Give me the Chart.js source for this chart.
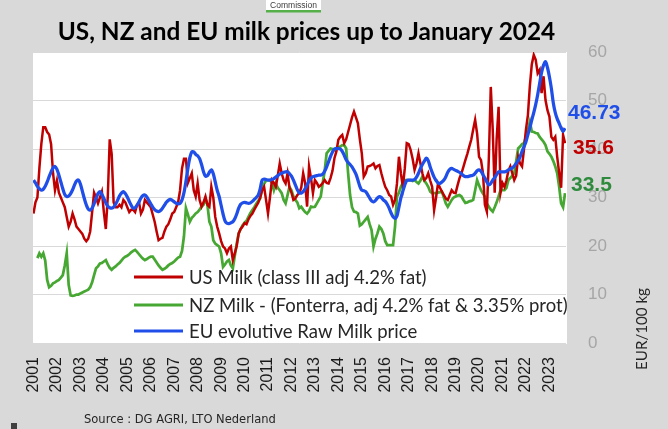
<!DOCTYPE html>
<html><head><meta charset="utf-8">
<script src="https://cdn.jsdelivr.net/npm/chart.js@4.4.0/dist/chart.umd.min.js"></script>
<style>html,body{margin:0;padding:0;background:#d9d9d9;}canvas{display:block}</style>
</head><body>
<canvas id="c" width="668" height="429"></canvas>
<script>
const titleText = 'US, NZ and EU milk prices up to January 2024';
const startYear = 2001;
const yearLabels = ['2001','2002','2003','2004','2005','2006','2007','2008','2009','2010','2011','2012','2013','2014','2015','2016','2017','2018','2019','2020','2021','2022','2023'];
const yTicks = [0,10,20,30,40,50,60];
const seriesNames = ['US Milk (class III adj 4.2% fat)','NZ Milk - (Fonterra, adj 4.2% fat & 3.35% prot)','EU evolutive Raw Milk price'];
const lastValueLabels = ['35.6','33.5','46.73'];

// monthly values, Jan 2001 onwards (EUR/100 kg)
const usMilk = [
26.7,29,30,36,41,44.5,44.5,43.5,43,41,35,31.5,
33.5,31,30,29,28,26,24,25,26.7,25.5,24,23.5,
23,22.5,21.5,21,21.5,23,27,31,30,28.8,30,31.2,
27,23.5,30,42,39,29,28,28,28.5,28,29.5,29,
28,27,27.5,27.5,27,28.5,29,26.7,27.5,29.5,29,28.5,
28,26.5,25,23,21.2,21.5,21.7,23,24,24.5,25.5,26.7,
27,28,29,31.5,36,38,38,33,34,35,31.5,30.2,
32.9,29.5,28.1,29,30.2,28.5,28.1,32.2,30,26,24,22.6,
21,19.9,19.5,18.5,19.5,19.9,17.1,18.5,20,22.6,23.5,24,
24.7,24.5,25.5,26.2,26.7,27.5,28.2,28.9,30,31.5,32.2,29.5,
26.7,30,33.6,33,32.2,34.5,37,35,33.6,32.9,35,32,
31,29.5,29.8,30.5,30.9,32,35,33,28.1,36.4,34,30.9,
33.6,33,32.2,32.5,33,33.6,33,32.9,34,35.5,38.1,39.5,
41.9,42.5,42.9,41.2,42,43.5,45,46.5,47.7,46.5,45.3,42,
39.1,34.3,35,36.4,36.5,36.7,37,36,36.5,36.7,35,33.5,
32.2,31.5,30.5,30.2,28.5,29.5,32.9,38.4,35,32.2,36,41.2,
41,39.8,38,35.7,37,39.1,37,35,33.6,34,35,33.5,
32.2,27.4,30,32.9,32,31.2,30.5,29.8,29.5,30.5,31.5,31,
30.9,32.5,34,35,36.3,37.7,39,40.5,41.9,44,46,43.2,
38.4,37.7,35,28.5,27.1,38,52.8,44,31,42,48.7,31,
33,32.2,33.5,35.5,36.4,35,33.6,34.5,38.4,37,36.4,40,
44,47,53,57.5,59.4,58.4,55.6,56.3,51.5,55,50.1,48,
46.7,42.5,41.9,42.5,38.4,35,32,42.9,41.2
];
const nzMilk = [
null,null,17.5,18.5,17.8,18.5,17,13,11.5,11.8,12.3,12.5,
12.8,13,13.5,14,16,18.5,12,9.8,9.7,9.8,10,10,
10.2,10.4,10.6,10.8,11,11.5,12.5,14,15.4,15.8,16.4,16.5,
16.8,17.1,16.2,15.5,15.1,15.5,15.8,16.2,16.5,17,17.5,17.8,
18,18.3,18.7,19,19.2,18.8,18.3,17.8,17.4,17.1,17.3,17.6,
17.8,17.8,17.2,16.6,16,15.5,15.1,15.3,15.6,16,16.3,16.5,
16.8,17.2,17.6,17.8,19,22,27.8,26.5,25,25.8,26.2,26.7,
27,27.5,28.1,28.5,29.8,28.5,25,24,21.2,20.5,20.2,19.9,
18.5,15.7,16.2,16.8,17.1,16,15.4,18,20.5,22.6,23.5,24.3,
24.8,25.2,26,26.8,27.4,28,28.7,29.3,29.8,32,32.8,33.5,
33.6,33.6,33,31.5,32.9,32,31.5,30.9,29.5,28.8,30.5,32.2,
31.5,30.2,29.5,29,27.8,28.1,27.5,27,26.7,27.2,28.1,28,
28.1,28.8,29.5,30.2,33,35.5,39.1,39.6,40.1,40,39.8,40.2,
40.3,40.5,40.8,40.8,40.1,35,30.5,28,27.1,27,26.7,24.2,
24.5,25,25.5,26,24.5,23.3,19.9,21.5,22.6,24,23.5,22.6,
21,20.2,20.2,20.2,20.2,24,30.2,31,32.2,33,33.6,33.6,
33.6,33.6,33.4,33.6,33.2,32.9,33.5,34.3,33.5,32.9,32.2,31.2,
30.9,30.9,30.9,31,31.1,31.2,30,28.8,28.1,28.8,29.5,30,
30.2,30.4,30.5,30.2,29.5,28.9,29,29.2,29.3,29.5,31.5,33.6,
32.5,31.5,30.8,30.2,28.8,28.1,27.5,27.1,28,29,30.2,31.5,
31.5,31.5,32,33.6,34,34.5,35,37.5,40.1,40.5,41,41.2,
42.5,43.9,45.6,43.6,43.5,43.3,43.2,42.5,42,41.5,40.8,39.5,
39,38.4,37.5,36.4,35,32.2,28.8,28,30.9
];
const euMilk = [
33.6,33,32.3,31.8,31.5,31.7,32.3,33.2,34.3,35.3,36.1,36.4,
35.8,34.6,33.2,31.8,30.6,30.2,30.3,30.8,31.6,32.6,33.4,33.6,
32.8,31.3,29.8,28.5,27.6,27.4,27.8,28.7,29.8,30.8,31.2,30.6,
29.8,28.9,28.2,27.9,27.8,28,28.6,29.4,30.3,30.9,31.2,30.8,
30.1,29.2,28.4,27.8,27.9,28.4,29.1,29.9,30.4,30.5,30.1,29.4,
28.7,28,27.5,27.2,27.1,27.3,27.8,28.4,29,29.4,29.6,29.4,
29.1,28.8,28.7,28.8,29.5,31,33.3,36,38.2,39.4,39.4,38.9,
38.6,38,36.8,35.3,34.4,34.5,35.2,35.7,34.9,33.2,31.5,30.2,
28.4,26.6,25.2,24.7,24.6,24.8,25,25.6,26.6,27.8,28.6,28.9,
29,28.9,28.8,28.9,29.2,29.6,30,30.5,31.8,33.6,33.8,33.7,
33.6,33.6,33.7,33.9,34.2,34.5,34.8,35,35.2,35.3,35.3,34.9,
34.4,33.6,32.6,31.6,31,30.9,31.2,31.8,32.6,33.4,34,34.3,
34.4,34.5,34.6,34.6,34.8,35.4,36.3,37.4,38.5,39.4,40,40.1,
40.1,40,39.5,38.7,37.8,37.2,36.8,36.3,35.6,34.8,33.6,32.3,
31.5,31.4,31.2,30.6,29.9,29.3,29.1,29.4,29.9,30.2,30,29.5,
29.2,28.6,27.8,26.8,26,25.7,26.2,28,29.9,31.3,32.6,33.5,
33.6,33.6,33.6,33.7,34.2,35,36,36.8,37.5,38.1,37.6,36.3,
35.2,34.2,33.5,33,32.9,33.2,33.6,34.3,35.2,35.8,36,35.8,
35.6,35.4,35.2,34.9,34.5,34.3,34.3,34.4,34.5,34.6,35,35.5,
35.7,35.4,34.7,34,33.2,32.6,32.9,33.6,34.1,34.7,35.3,35.3,
35.3,35.3,35.4,35.7,35.9,36.1,36.5,37,37.6,38.4,39.5,40.5,
41.5,43,44.4,46,47.5,49.2,51.2,53.5,55.8,57.3,58,56.8,
54.9,52.5,49.5,47.5,46.2,45.3,44.3,43.6,44.3
];

const colors = ['#c00000','#46a832','#1f4fe8'];
const labelColors = ['#c00000','#2e8b3e','#1f4fe8'];

function toPoints(arr){ return arr.map((v,i)=>({x: startYear + i/12, y: v})); }

function fitFont(ctx, text, weight, family, target){
  ctx.font = weight + ' 20px ' + family;
  const w = ctx.measureText(text).width;
  return 20 * target / w;
}

const deco = {
  id: 'deco',
  beforeDraw(chart){
    const {ctx, chartArea:a} = chart;
    ctx.save();
    ctx.fillStyle = '#d9d9d9';
    ctx.fillRect(0,0,chart.width,chart.height);
    ctx.fillStyle = '#ffffff';
    ctx.fillRect(a.left, a.top, a.right - a.left + 1, a.bottom - a.top + 1);
    ctx.restore();
  },
  afterDraw(chart){
    const {ctx} = chart;
    ctx.save();
    // Commission tab
    ctx.fillStyle = '#ffffff';
    ctx.fillRect(266, 0, 55, 10);
    ctx.fillStyle = '#56b04a';
    ctx.fillRect(266, 10, 55, 2.5);
    let s = fitFont(ctx, 'Commission', '400', '"Liberation Sans"', 47);
    ctx.font = '400 ' + s + 'px "Liberation Sans"';
    ctx.fillStyle = '#404040';
    ctx.textAlign = 'center';
    ctx.textBaseline = 'alphabetic';
    ctx.fillText('Commission', 293.5, 8);

    // Title
    s = fitFont(ctx, titleText, '700', 'Lato', 498);
    ctx.font = '700 ' + s + 'px Lato';
    ctx.fillStyle = '#000000';
    ctx.textAlign = 'center';
    ctx.fillText(titleText, 306.5, 40);

    // Legend
    const legY = [277, 305, 331];
    s = fitFont(ctx, seriesNames[1], '400', 'Lato', 379);
    ctx.font = '400 ' + s + 'px Lato';
    ctx.textAlign = 'left';
    ctx.textBaseline = 'middle';
    chart.data.datasets.forEach((ds, i) => {
      ctx.strokeStyle = ds.borderColor;
      ctx.lineWidth = 3;
      ctx.beginPath();
      ctx.moveTo(134, legY[i]);
      ctx.lineTo(183, legY[i]);
      ctx.stroke();
      ctx.fillStyle = '#262626';
      ctx.fillText(ds.label, 189, legY[i] + 1);
    });

    // Last value labels
    ctx.font = '700 21px "Liberation Sans"';
    ctx.textBaseline = 'middle';
    const lx = [573, 571, 568], ly = [148, 185, 113.5];
    lastValueLabels.forEach((t, i) => {
      ctx.fillStyle = labelColors[i];
      ctx.fillText(t, lx[i], ly[i]);
    });

    // Axis title
    s = fitFont(ctx, 'EUR/100 kg', '400', 'Lato', 82);
    ctx.font = '400 ' + s + 'px Lato';
    ctx.fillStyle = '#262626';
    ctx.translate(642, 329);
    ctx.rotate(-Math.PI/2);
    ctx.textAlign = 'center';
    ctx.textBaseline = 'middle';
    ctx.fillText('EUR/100 kg', 0, 0);
    ctx.setTransform(1,0,0,1,0,0);

    // Source
    const src = 'Source : DG AGRI, LTO Nederland';
    s = fitFont(ctx, src, '400', '"DejaVu Sans"', 192);
    ctx.font = '400 ' + s + 'px "DejaVu Sans"';
    ctx.fillStyle = '#262626';
    ctx.textAlign = 'left';
    ctx.textBaseline = 'middle';
    ctx.fillText(src, 84, 420);

    ctx.fillStyle = '#404040';
    ctx.fillRect(11, 423, 6, 6);
    ctx.restore();
  }
};

new Chart(document.getElementById('c'), {
  type: 'line',
  data: {
    datasets: [
      { label: seriesNames[0], data: toPoints(usMilk), borderColor: colors[0], borderWidth: 2.5, pointRadius: 0, tension: 0, order: 1 },
      { label: seriesNames[1], data: toPoints(nzMilk), borderColor: colors[1], borderWidth: 2.75, pointRadius: 0, tension: 0, order: 2 },
      { label: seriesNames[2], data: toPoints(euMilk), borderColor: colors[2], borderWidth: 3.25, pointRadius: 0, tension: 0.3, order: 0 }
    ]
  },
  options: {
    responsive: false,
    devicePixelRatio: 1,
    animation: false,
    layout: { padding: { left: 33, top: 52, right: 0, bottom: 0 } },
    plugins: { legend: { display: false }, tooltip: { enabled: false }, title: { display: false } },
    scales: {
      x: {
        type: 'linear',
        min: 2001 - 0.5/23.45,
        max: 2001 + (566 - 33.5)/23.45,
        afterBuildTicks: (scale) => { scale.ticks = yearLabels.map(y => ({ value: Number(y) })); },
        afterFit: (scale) => { scale.height = 86; },
        grid: { display: false, drawTicks: false },
        border: { display: false },
        ticks: {
          autoSkip: false, maxRotation: 90, minRotation: 90, padding: 14,
          color: '#1a1a1a', font: { family: '"Liberation Sans"', size: 16 },
          callback: (v) => String(v)
        }
      },
      y: {
        position: 'right',
        min: 0, max: 60,
        afterBuildTicks: (scale) => { scale.ticks = yTicks.map(v => ({ value: v })); },
        afterFit: (scale) => { scale.width = 102; },
        grid: { color: '#d9d9d9', lineWidth: 1, drawTicks: false },
        border: { display: false },
        ticks: { padding: 22, color: '#a6a6a6', font: { family: '"Liberation Sans"', size: 17 } }
      }
    }
  },
  plugins: [deco]
});
</script>
</body></html>
